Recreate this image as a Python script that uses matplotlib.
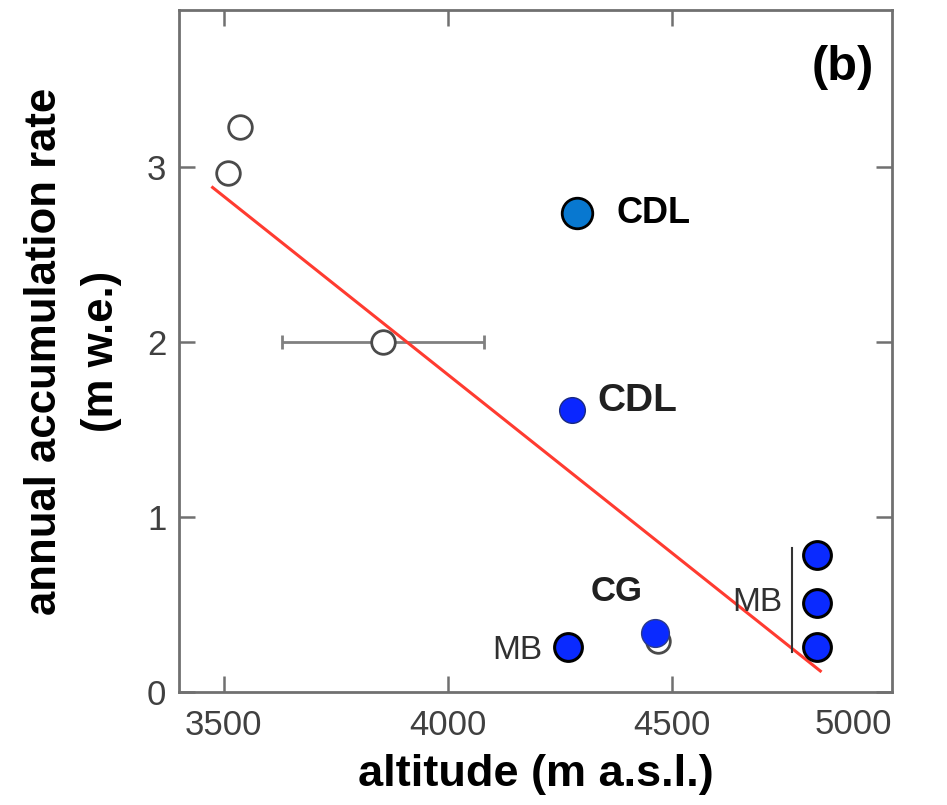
import matplotlib
matplotlib.use("Agg")
import matplotlib.pyplot as plt

plt.rcParams['font.family'] = ['Liberation Sans', 'DejaVu Sans']

# ---- data ----
open_alt = [3535, 3510, 3855, 4468]
open_acc = [3.23, 2.97, 2.00, 0.29]
open_xerr = [0, 0, 225, 0]

cdl_top_alt = [4288]
cdl_top_acc = [2.74]
cdl_low_alt = [4277]
cdl_low_acc = [1.61]
cg_alt = [4462]
cg_acc = [0.34]
mb_alt = [4268, 4823, 4823, 4823]
mb_acc = [0.257, 0.783, 0.509, 0.257]

trend_alt = [3475, 4830]
trend_acc = [2.885, 0.12]

mb_bar_alt = [4767, 4767]
mb_bar_acc = [0.823, 0.229]

x_ticks = [3500, 4000, 4500, 5000]
y_ticks = [0, 1, 2, 3]

fig = plt.figure(figsize=(9.47, 8.05), dpi=100)
ax = fig.add_axes([0.189, 0.1404, 0.753, 0.8472])

gray = '#707070'

ax.plot(trend_alt, trend_acc, color='#ff3b30', lw=2.2, zorder=2)
ax.plot(mb_bar_alt, mb_bar_acc, color='#333333', lw=1.5, zorder=2)

ax.errorbar(open_alt[2:3], open_acc[2:3], xerr=open_xerr[2:3], fmt='none',
            ecolor='#808080', elinewidth=2, capsize=5, capthick=2, zorder=1)
ax.scatter(open_alt, open_acc, s=17**2, facecolor='white', edgecolor='#4a4a4a',
           linewidth=2, zorder=3)

ax.scatter(cdl_top_alt, cdl_top_acc, s=22**2, facecolor='#0878d0', edgecolor='black',
           linewidth=2, zorder=4)
ax.scatter(cdl_low_alt, cdl_low_acc, s=18.5**2, facecolor='#0a26ff', edgecolor='#1a2a80',
           linewidth=1, zorder=4)
ax.scatter(cg_alt, cg_acc, s=20**2, facecolor='#0a2aff', edgecolor='#2a3a8a',
           linewidth=1, zorder=4)
ax.scatter(mb_alt, mb_acc, s=20**2, facecolor='#0a2aff', edgecolor='black',
           linewidth=2.2, zorder=4)

ax.text(4375, 2.737, 'CDL', fontsize=26, fontweight='bold', color='black',
        ha='left', va='center')
ax.text(4333, 1.663, 'CDL', fontsize=28, fontweight='bold', color='#202020',
        ha='left', va='center')
ax.text(4318, 0.577, 'CG', fontsize=25, fontweight='bold', color='#202020',
        ha='left', va='center')
ax.text(4210, 0.24, 'MB', fontsize=24, color='#303030', ha='right', va='center')
ax.text(4745, 0.514, 'MB', fontsize=24, color='#303030', ha='right', va='center')
ax.text(0.931, 0.915, '(b)', transform=ax.transAxes, fontsize=35, fontweight='bold',
        ha='center', va='center')

ax.set_xlim(3400, 4990)
ax.set_ylim(0, 3.9)
ax.set_xticks(x_ticks[:3])
ax.set_yticks(y_ticks)
ax.tick_params(direction='in', length=11.5, width=1.8, color=gray,
               labelsize=25, labelcolor='#404040', top=True, right=True, pad=9)
ax.tick_params(axis='x', pad=12)
for s in ax.spines.values():
    s.set_color(gray)
    s.set_linewidth(2)

# 5000 label at the right edge of the axis
ax.text(1.0, -0.0235, str(x_ticks[3]), transform=ax.transAxes, fontsize=25,
        color='#404040', ha='right', va='top')

ax.set_xlabel('altitude (m a.s.l.)', fontsize=32.5, fontweight='bold', labelpad=9)
ax.set_ylabel('annual accumulation rate\n(m w.e.)', fontsize=31.5, fontweight='bold',
              linespacing=1.5)
ax.yaxis.set_label_coords(-0.08, 0.5)

fig.savefig('out.png', dpi=100)
